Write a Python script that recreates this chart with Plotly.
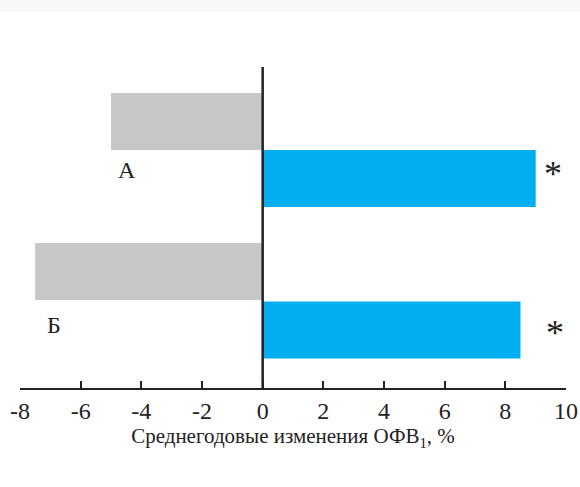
import plotly.graph_objects as go

# Data
groups = ["А", "Б"]
before_vals = [-5.0, -7.5]   # grey bars
after_vals = [9.0, 8.5]      # blue bars
significant = ["*", "*"]
tick_values = [-8, -6, -4, -2, 0, 2, 4, 6, 8, 10]
tick_labels = ["-8", "-6", "-4", "-2", "0", "2", "4", "6", "8", "10"]

# Layout constants (vertical positions in plot units)
grey_pos = [266.5, 116.5]
blue_pos = [209.5, 58.0]
label_pos = [(-4.48, 218), (-6.89, 63)]
star_pos = [(9.56, 214), (9.63, 55)]
BAR_W = 57

FONT = "Liberation Serif"
GREY = "#c6c7c9"
BLUE = "#00aeef"

fig = go.Figure()
fig.add_trace(go.Bar(x=before_vals, y=grey_pos, orientation="h", width=BAR_W,
                     marker=dict(color=GREY, line=dict(width=0)), showlegend=False,
                     hoverinfo="x"))
fig.add_trace(go.Bar(x=after_vals, y=blue_pos, orientation="h", width=BAR_W,
                     marker=dict(color=BLUE, line=dict(width=0)), showlegend=False,
                     hoverinfo="x"))

for g, (lx, ly) in zip(groups, label_pos):
    fig.add_annotation(x=lx, y=ly, text=g, showarrow=False,
                       font=dict(family=FONT, size=24, color="#222"))
for s, (sx, sy) in zip(significant, star_pos):
    fig.add_annotation(x=sx, y=sy, text=s, showarrow=False,
                       font=dict(family=FONT, size=36, color="#222"))

# zero line
fig.add_shape(type="line", xref="x", yref="paper", x0=0, x1=0, y0=0, y1=1,
              line=dict(color="#222", width=2.5), layer="above")

# faint band at the top of the page
fig.add_shape(type="rect", xref="paper", yref="paper", x0=-0.1, x1=1.1,
              y0=1 + 55 / 321, y1=1 + 67 / 321, fillcolor="#f8f8f8",
              line=dict(width=0), layer="below")

fig.update_layout(
    width=580, height=487,
    margin=dict(l=20, r=14, t=67, b=99, autoexpand=False),
    paper_bgcolor="white", plot_bgcolor="white",
    barmode="overlay",
    xaxis=dict(range=[-8, 10], tickvals=tick_values, ticktext=tick_labels,
               showgrid=False, zeroline=False, showline=True, automargin=False,
               linecolor="#222", linewidth=2, ticks="inside", ticklen=7,
               tickwidth=1.5, tickcolor="#222",
               tickfont=dict(family=FONT, size=24, color="#222"),
               title=dict(text="Среднегодовые изменения ОФВ<sub>1</sub>, %",
                          font=dict(family=FONT, size=21, color="#222"),
                          standoff=6)),
    yaxis=dict(range=[0, 321], visible=False, fixedrange=True),
)

fig.write_html("out.html")
